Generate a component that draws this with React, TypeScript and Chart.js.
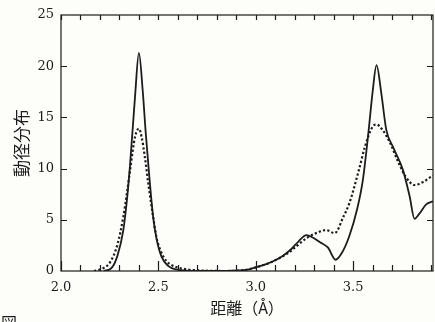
import { useEffect, useRef } from 'react';
import { Chart, registerables } from 'chart.js';

Chart.register(...registerables);

// 距離 (Å) and 動径分布 values
const solidDist = [2.22, 2.26, 2.29, 2.32, 2.34, 2.355, 2.38, 2.40, 2.42, 2.435, 2.45, 2.473, 2.49, 2.516, 2.55, 2.59, 2.65, 2.8, 2.95, 3.0, 3.05, 3.10, 3.14, 3.18, 3.22, 3.26, 3.29, 3.33, 3.37, 3.41, 3.44, 3.48, 3.52, 3.55, 3.58, 3.60, 3.62, 3.645, 3.67, 3.705, 3.755, 3.79, 3.815, 3.84, 3.875, 3.91];
const solidRdf = [0, 0.3, 1.5, 4.0, 7.2, 10.5, 17, 21.3, 17.5, 13.5, 10.0, 5.3, 3.2, 1.4, 0.5, 0.15, 0.03, 0, 0.1, 0.35, 0.65, 1.05, 1.5, 2.1, 2.9, 3.5, 3.3, 2.8, 2.3, 1.1, 1.7, 3.4, 6.0, 8.9, 13.8, 17.5, 20.1, 17.3, 13.8, 12.1, 9.9, 7.3, 5.1, 5.6, 6.5, 6.8];

const dottedDist = [2.17, 2.20, 2.25, 2.29, 2.32, 2.34, 2.355, 2.38, 2.40, 2.415, 2.43, 2.45, 2.473, 2.49, 2.51, 2.54, 2.59, 2.65, 2.72, 2.85, 2.95, 3.0, 3.05, 3.10, 3.14, 3.18, 3.22, 3.26, 3.31, 3.36, 3.405, 3.45, 3.48, 3.53, 3.56, 3.60, 3.62, 3.65, 3.69, 3.73, 3.77, 3.815, 3.86, 3.90, 3.91];
const dottedRdf = [0, 0.15, 0.8, 2.6, 5.3, 7.8, 9.9, 13.1, 13.9, 13.0, 11.2, 8.3, 5.3, 3.3, 2.05, 1.0, 0.4, 0.15, 0.05, 0, 0.12, 0.35, 0.65, 1.05, 1.45, 1.95, 2.6, 3.2, 3.7, 4.0, 3.7, 5.3, 6.6, 9.9, 12.1, 14.1, 14.3, 13.8, 12.5, 10.7, 9.2, 8.4, 8.7, 9.2, 9.3];

const xTickValues = [2.0, 2.5, 3.0, 3.5];
const yTickValues = [0, 5, 10, 15, 20, 25];
const X_MIN = 2.0;
const X_MAX = 3.91;
const X_MINOR_STEP = 0.1;
const Y_MIN = 0;
const Y_MAX = 25;

const INK = '#1c1c1c';

const framePlugin = {
  id: 'frameTicks',
  afterDraw(chart: any) {
    const { ctx, chartArea, scales } = chart;
    const { left, right, top, bottom } = chartArea;
    const x = scales.x;
    const y = scales.y;
    ctx.save();
    ctx.strokeStyle = INK;
    ctx.lineWidth = 1.2;
    ctx.strokeRect(left, top, right - left, bottom - top);
    ctx.beginPath();
    const n = Math.floor((X_MAX - X_MIN) / X_MINOR_STEP + 1e-6);
    for (let i = 0; i <= n; i++) {
      const v = X_MIN + i * X_MINOR_STEP;
      const px = Math.round(x.getPixelForValue(v)) + 0.5;
      if (px > right - 1) continue;
      const major = i % 5 === 0;
      ctx.moveTo(px, bottom);
      ctx.lineTo(px, bottom - (major ? 10 : 6));
      ctx.moveTo(px, top);
      ctx.lineTo(px, top + 5);
    }
    for (const v of yTickValues) {
      const py = Math.round(y.getPixelForValue(v)) + 0.5;
      if (py <= top + 1 || py >= bottom - 1) continue;
      ctx.moveTo(left, py);
      ctx.lineTo(left + 6, py);
      ctx.moveTo(right, py);
      ctx.lineTo(right - 6, py);
    }
    ctx.stroke();
    ctx.restore();
  },
};

export default function App() {
  const canvasRef = useRef<HTMLCanvasElement | null>(null);

  useEffect(() => {
    const canvas = canvasRef.current;
    if (!canvas) return;
    const chart = new Chart(canvas, {
      type: 'line',
      data: {
        datasets: [
          {
            label: 'solid',
            data: solidDist.map((d, i) => ({ x: d, y: solidRdf[i] })),
            borderColor: INK,
            borderWidth: 1.8,
            pointRadius: 0,
            fill: false,
            cubicInterpolationMode: 'monotone',
          },
          {
            label: 'dotted',
            data: dottedDist.map((d, i) => ({ x: d, y: dottedRdf[i] })),
            borderColor: INK,
            borderWidth: 2.2,
            borderDash: [2.2, 2.2],
            pointRadius: 0,
            fill: false,
            cubicInterpolationMode: 'monotone',
          },
        ],
      },
      plugins: [framePlugin],
      options: {
        animation: false,
        responsive: false,
        devicePixelRatio: 1,
        layout: { padding: { top: 15, right: 2, left: 0, bottom: 0 } },
        plugins: { legend: { display: false }, tooltip: { enabled: false } },
        scales: {
          x: {
            type: 'linear',
            min: X_MIN,
            max: X_MAX,
            grid: { display: false, drawTicks: false },
            border: { display: false },
            afterBuildTicks: (scale: any) => {
              scale.ticks = xTickValues.map((v) => ({ value: v }));
            },
            afterFit: (scale: any) => {
              scale.height = 51;
            },
            ticks: {
              padding: 9,
              color: INK,
              font: { family: "'DejaVu Serif', serif", size: 13 },
              callback: (v: any) => Number(v).toFixed(1),
              maxRotation: 0,
              autoSkip: false,
            },
            title: {
              display: true,
              text: '距離（Å）',
              color: INK,
              font: { family: "'Noto Sans CJK JP', sans-serif", size: 16 },
              padding: { top: 0, bottom: 4 },
            },
          },
          y: {
            type: 'linear',
            min: Y_MIN,
            max: Y_MAX,
            grid: { display: false, drawTicks: false },
            border: { display: false },
            afterBuildTicks: (scale: any) => {
              scale.ticks = yTickValues.map((v) => ({ value: v }));
            },
            afterFit: (scale: any) => {
              scale.width = 61;
            },
            ticks: {
              padding: 7,
              color: INK,
              font: { family: "'DejaVu Serif', serif", size: 13 },
              autoSkip: false,
            },
            title: {
              display: true,
              text: '動径分布',
              color: INK,
              font: { family: "'Noto Sans CJK JP', sans-serif", size: 17 },
              padding: { top: 11, bottom: 0 },
            },
          },
        },
      },
    } as any);
    return () => chart.destroy();
  }, []);

  return (
    <div
      style={{
        position: 'fixed',
        left: 0,
        top: 0,
        width: 435,
        height: 322,
        overflow: 'hidden',
        background: '#fdfdfa',
      }}
    >
      <canvas ref={canvasRef} width={435} height={322} style={{ display: 'block' }} />
      <div
        style={{
          position: 'absolute',
          left: 1,
          top: 314,
          fontSize: 16,
          lineHeight: '16px',
          fontFamily: "'Noto Sans CJK JP', sans-serif",
          color: INK,
        }}
      >
        図
      </div>
    </div>
  );
}
